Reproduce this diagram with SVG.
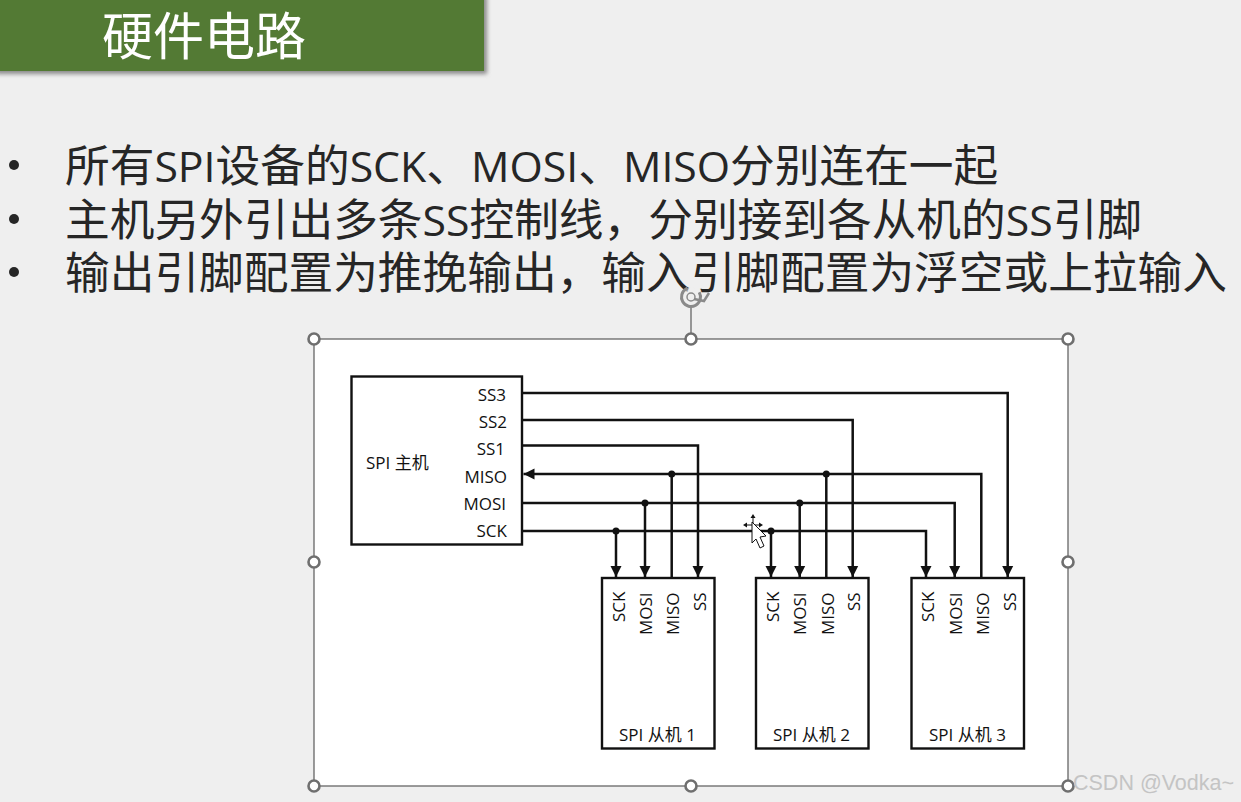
<svg xmlns="http://www.w3.org/2000/svg" width="1241" height="802" viewBox="0 0 1241 802">
<style>
text{font-family:"Noto Sans CJK SC","Noto Sans",sans-serif}
.body{font-size:44.7px;fill:#262626}
.body tspan{font-family:"Open Sans","Noto Sans CJK SC",sans-serif;font-size:42.8px}
.lb{font-size:17px;fill:#111;font-family:"Open Sans","Noto Sans CJK SC",sans-serif}
.box{fill:#fff;stroke:#111;stroke-width:2.4}
.w{fill:none;stroke:#111;stroke-width:2.5}
.sel{fill:none;stroke:#666;stroke-width:1.3}
.h{fill:#fff;stroke:#6f6f6f;stroke-width:2.6}
</style>
<defs>
<filter id="sh" x="-5%" y="-20%" width="110%" height="140%"><feGaussianBlur stdDeviation="2"/></filter>
<marker id="a" markerWidth="11" markerHeight="12" refX="10" refY="5" orient="auto" markerUnits="userSpaceOnUse" viewBox="0 0 10 10"><path d="M0 0L10 5L0 10Z" fill="#111"/></marker>
</defs>
<rect width="1241" height="802" fill="#efefef"/>
<g id="title">
<rect x="-4" y="-4" width="491" height="78" fill="#8a8a8a" filter="url(#sh)"/>
<rect x="0" y="0" width="484" height="71" fill="#537a34"/>
<text x="102" y="55" font-size="51" fill="#fff">硬件电路</text>
</g>
<g id="bullets">
<circle cx="14" cy="165" r="5" fill="#262626"/><circle cx="14" cy="219" r="5" fill="#262626"/><circle cx="14" cy="272" r="5" fill="#262626"/>
<text class="body" x="65" y="182">所有<tspan>SPI</tspan>设备的<tspan>SCK</tspan>、<tspan>MOSI</tspan>、<tspan>MISO</tspan>分别连在一起</text>
<text class="body" x="65" y="236">主机另外引出多条<tspan>SS</tspan>控制线，分别接到各从机的<tspan>SS</tspan>引脚</text>
<text class="body" x="65" y="289">输出引脚配置为推挽输出，输入引脚配置为浮空或上拉输入</text>
</g>
<g id="panel">
<rect x="314" y="339" width="754" height="447" fill="#fff"/>
<rect class="sel" x="314" y="339" width="754" height="447"/>
<path class="sel" d="M691 339V306"/>
<circle cx="691" cy="297" r="9.5" fill="#efefef" fill-opacity=".6" stroke="#8a8a8a" stroke-width="3" stroke-dasharray="46 14" transform="rotate(-30 691 297)"/>
<path d="M694 299l10 2 5-8" fill="none" stroke="#8a8a8a" stroke-width="2.500"/>
<circle cx="691" cy="297" r="4" fill="none" stroke="#8a8a8a" stroke-width="1.500"/>
<circle class="h" cx="314" cy="339" r="5.5"/><circle class="h" cx="691" cy="339" r="5.5"/><circle class="h" cx="1068" cy="339" r="5.5"/>
<circle class="h" cx="314" cy="562" r="5.5"/><circle class="h" cx="1068" cy="562" r="5.5"/>
<circle class="h" cx="314" cy="786" r="5.5"/><circle class="h" cx="691" cy="786" r="5.5"/><circle class="h" cx="1068" cy="786" r="5.5"/>
</g>
<g id="master">
<rect class="box" x="351.5" y="376.5" width="170.5" height="168"/>
<text class="lb" x="366" y="469">SPI 主机</text>
<g text-anchor="end">
<text class="lb" x="506" y="401">SS3</text><text class="lb" x="507" y="428">SS2</text><text class="lb" x="505" y="455">SS1</text>
<text class="lb" x="507" y="483">MISO</text><text class="lb" x="506" y="510">MOSI</text><text class="lb" x="507" y="537">SCK</text>
</g>
</g>
<g id="slave1">
<rect class="box" x="602" y="578" width="112.500" height="170.500"/>
<text class="lb" transform="translate(625 622) rotate(-90)">SCK</text>
<text class="lb" transform="translate(652 635) rotate(-90)">MOSI</text>
<text class="lb" transform="translate(679 635) rotate(-90)">MISO</text>
<text class="lb" transform="translate(706 611) rotate(-90)">SS</text>
<text class="lb" x="619" y="741">SPI 从机 1</text>
</g>
<g id="slave2">
<rect class="box" x="756" y="578" width="112.500" height="170.500"/>
<text class="lb" transform="translate(779 622) rotate(-90)">SCK</text>
<text class="lb" transform="translate(806 635) rotate(-90)">MOSI</text>
<text class="lb" transform="translate(834 635) rotate(-90)">MISO</text>
<text class="lb" transform="translate(860 611) rotate(-90)">SS</text>
<text class="lb" x="773" y="741">SPI 从机 2</text>
</g>
<g id="slave3">
<rect class="box" x="911.500" y="578" width="112.500" height="170.500"/>
<text class="lb" transform="translate(934 622) rotate(-90)">SCK</text>
<text class="lb" transform="translate(962 635) rotate(-90)">MOSI</text>
<text class="lb" transform="translate(989 635) rotate(-90)">MISO</text>
<text class="lb" transform="translate(1016 611) rotate(-90)">SS</text>
<text class="lb" x="929" y="741">SPI 从机 3</text>
</g>
<g id="connectors">
<path class="w" marker-end="url(#a)" d="M522 393H1007.700V577"/>
<path class="w" marker-end="url(#a)" d="M522 420H852.700V577"/>
<path class="w" marker-end="url(#a)" d="M522 445.500H698V577"/>
<path class="w" marker-end="url(#a)" d="M981.300 578V474H523.500"/>
<path class="w" d="M671.700 578V474M826.300 578V474"/>
<path class="w" marker-end="url(#a)" d="M522 503H954.700V577"/>
<path class="w" marker-end="url(#a)" d="M645 503V577"/>
<path class="w" marker-end="url(#a)" d="M799.700 503V577"/>
<path class="w" marker-end="url(#a)" d="M522 531H926V577"/>
<path class="w" marker-end="url(#a)" d="M616 531V577"/>
<path class="w" marker-end="url(#a)" d="M771 531V577"/>
<g fill="#111"><circle cx="616" cy="531" r="3.500"/><circle cx="645" cy="503" r="3.500"/><circle cx="671.700" cy="474" r="3.500"/><circle cx="771" cy="531" r="3.500"/><circle cx="799.700" cy="503" r="3.500"/><circle cx="826.300" cy="474" r="3.500"/></g>
</g>
<g id="cursor">
<path d="M753 517v20M745 525h16" stroke="#111" stroke-width="1" fill="none"/>
<path d="M752 522l14 14-6 1 4 9-4 2-4-9-4 4Z" fill="#fff" stroke="#111" stroke-width="1"/>
<path d="M753 514l-2.500 4h5ZM743 525l4-2.500v5ZM763 525l-4-2.500v5Z" fill="#111"/>
</g>
<text x="1073" y="790" font-size="21.500" fill="#c4c4c4" style="font-family:'Liberation Sans',sans-serif">CSDN @Vodka~</text>
</svg>
